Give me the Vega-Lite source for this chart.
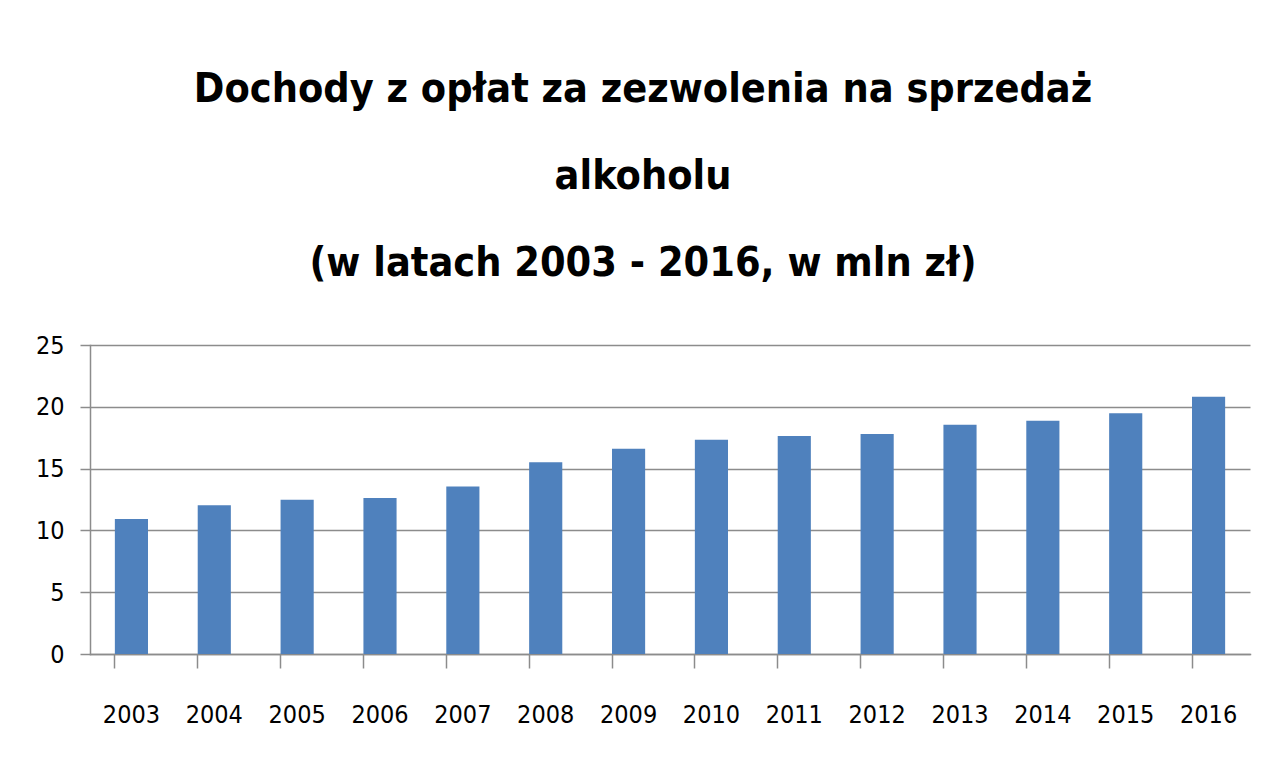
{
  "$schema": "https://vega.github.io/schema/vega-lite/v6.json",
  "autosize": "none",
  "width": 1160,
  "height": 309,
  "padding": {"left": 90, "top": 345, "right": 33, "bottom": 119},
  "background": "white",
  "title": {
    "text": ["Dochody z opłat za zezwolenia na sprzedaż", "alkoholu", "(w latach 2003 - 2016, w mln zł)"],
    "font": "'DejaVu Sans Condensed', 'Liberation Sans Narrow', 'Open Sans', sans-serif",
    "fontWeight": "bold",
    "fontSize": 41,
    "lineHeight": 87,
    "color": "#000000",
    "anchor": "middle",
    "dx": -27,
    "offset": 48
  },
  "data": {
    "values": [
      {"rok": "2003", "wartosc": 10.93},
      {"rok": "2004", "wartosc": 12.04},
      {"rok": "2005", "wartosc": 12.47},
      {"rok": "2006", "wartosc": 12.63},
      {"rok": "2007", "wartosc": 13.55},
      {"rok": "2008", "wartosc": 15.52},
      {"rok": "2009", "wartosc": 16.6},
      {"rok": "2010", "wartosc": 17.33},
      {"rok": "2011", "wartosc": 17.63},
      {"rok": "2012", "wartosc": 17.79},
      {"rok": "2013", "wartosc": 18.55},
      {"rok": "2014", "wartosc": 18.87},
      {"rok": "2015", "wartosc": 19.47},
      {"rok": "2016", "wartosc": 20.82}
    ]
  },
  "layer": [
    {
      "mark": {"type": "bar", "color": "#4F81BD"},
      "encoding": {
        "x": {
          "field": "rok",
          "type": "ordinal",
          "scale": {"paddingInner": 0.6, "paddingOuter": 0.3},
          "axis": {
            "orient": "bottom",
            "title": null,
            "labelAngle": 0,
            "ticks": false,
            "domain": false,
            "labelFont": "'DejaVu Sans Condensed', 'Liberation Sans Narrow', 'Open Sans', sans-serif",
            "labelFontSize": 25,
            "labelColor": "#000000",
            "labelPadding": 48
          }
        },
        "y": {
          "field": "wartosc",
          "type": "quantitative",
          "scale": {"domain": [0, 25], "nice": false},
          "axis": {
            "title": null,
            "values": [0, 5, 10, 15, 20, 25],
            "grid": true,
            "gridColor": "#8c8c8c",
            "gridWidth": 1.5,
            "domainColor": "#8c8c8c",
            "domainWidth": 1.5,
            "tickColor": "#8c8c8c",
            "tickWidth": 1.5,
            "tickSize": 10,
            "labelFont": "'DejaVu Sans Condensed', 'Liberation Sans Narrow', 'Open Sans', sans-serif",
            "labelFontSize": 25,
            "labelColor": "#000000",
            "labelPadding": 16
          }
        }
      }
    },
    {
      "mark": {"type": "bar", "opacity": 0},
      "encoding": {
        "x": {
          "field": "rok",
          "type": "ordinal",
          "scale": {"paddingInner": 0.6, "paddingOuter": 0.3},
          "axis": {
            "orient": "bottom",
            "title": null,
            "labels": false,
            "grid": false,
            "bandPosition": 0,
            "ticks": true,
            "tickSize": 14,
            "tickColor": "#8c8c8c",
            "tickWidth": 1.5,
            "domainColor": "#8c8c8c",
            "domainWidth": 1.5
          }
        },
        "y": {"field": "wartosc", "type": "quantitative", "scale": {"domain": [0, 25], "nice": false}}
      }
    }
  ],
  "resolve": {"axis": {"x": "independent"}},
  "config": {
    "view": {"stroke": null},
    "axis": {"domainCap": "square"}
  }
}
